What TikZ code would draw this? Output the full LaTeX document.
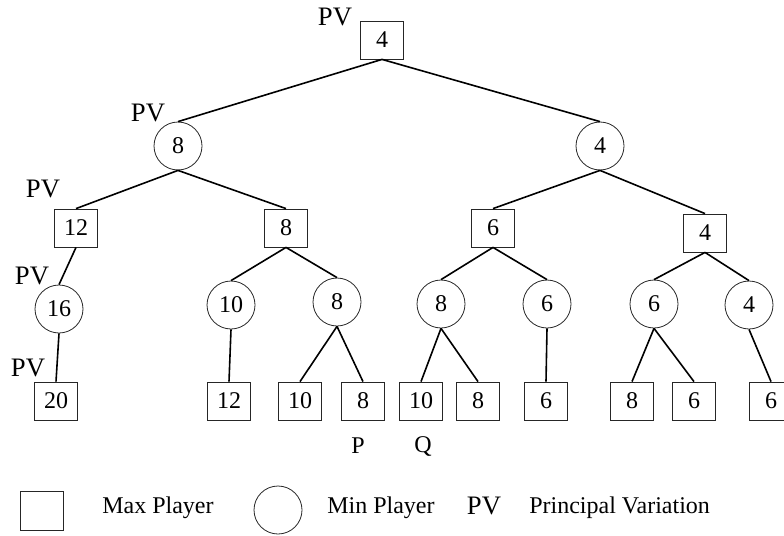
\documentclass[tikz,border=0pt]{standalone}
\usepackage{fontspec}
\setmainfont{Liberation Serif}
\usetikzlibrary{positioning}

\begin{document}
\begin{tikzpicture}[x=0.75pt, y=-0.75pt,
    maxnode/.style={rectangle, draw=black!85, line width=0.6pt, minimum width=32pt,
      minimum height=28.5pt, inner sep=0pt, font=\fontsize{18}{21}\selectfont},
    minnode/.style={circle, draw=black!85, line width=0.6pt, minimum size=36pt,
      inner sep=0pt, font=\fontsize{18}{21}\selectfont},
    edge/.style={line width=1.2pt},
    pv/.style={font=\fontsize{20}{24}\selectfont, inner sep=0pt},
    legend/.style={font=\fontsize{18}{21}\selectfont, inner sep=0pt}]
  \useasboundingbox (0,0) rectangle (784,535);
  \clip (0,0) rectangle (784,535);

  % max / min levels
  \node[maxnode] (root) at (382,40) {4};
  \node[minnode] (l) at (178,146) {8};
  \node[minnode] (r) at (600,146) {4};
  \node[maxnode] (ll) at (76,228) {12};
  \node[maxnode] (lr) at (286,228) {8};
  \node[maxnode] (rl) at (493,228) {6};
  \node[maxnode] (rr) at (705,233) {4};
  \node[minnode] (lll) at (59,309) {16};
  \node[minnode] (lrl) at (231,305) {10};
  \node[minnode] (lrr) at (337,302) {8};
  \node[minnode] (rll) at (441,304) {8};
  \node[minnode] (rlr) at (547,304) {6};
  \node[minnode] (rrl) at (654,304) {6};
  \node[minnode] (rrr) at (749,305) {4};

  % leaves
  \foreach \name/\x/\val in {t1/56/20, t2/229/12, t3/300/10, t4/363/8, t5/421/10,
      t6/478/8, t7/546/6, t8/632/8, t9/694/6, t10/771/6}
    \node[maxnode] (\name) at (\x,401) {\val};

  \foreach \p/\c in {root/l, root/r, l/ll, l/lr, r/rl, r/rr, ll/lll, lr/lrl, lr/lrr,
      rl/rll, rl/rlr, rr/rrl, rr/rrr, lll/t1, lrl/t2, lrr/t3, lrr/t4, rll/t5, rll/t6,
      rlr/t7, rrl/t8, rrl/t9, rrr/t10}
    \draw[edge] (\p.south) -- (\c.north);

  % principal variation marks
  \node[pv] (pv0) at (335,17) {PV};
  \node[pv] (pv1) at (148,113) {PV};
  \node[pv] (pv2) at (43,189) {PV};
  \node[pv] (pv3) at (32,276) {PV};
  \node[pv] (pv4) at (28,368) {PV};

  \node[legend] (p) at (358,446) {P};
  \node[legend] (q) at (423,446) {Q};

  % legend
  \node[rectangle, draw=black!85, line width=0.6pt, minimum width=32pt,
    minimum height=29pt, inner sep=0pt] (keymax) at (42,511) {};
  \node[legend, anchor=west] (keymaxtxt) at (102,508) {Max Player};
  \node[circle, draw=black!85, line width=0.6pt, minimum size=36pt,
    inner sep=0pt] (keymin) at (278,510) {};
  \node[legend, anchor=west] (keymintxt) at (327,508) {Min Player};
  \node[pv] (keypv) at (484,506) {PV};
  \node[legend, anchor=west] (keypvtxt) at (529,508) {Principal Variation};
\end{tikzpicture}
\end{document}
